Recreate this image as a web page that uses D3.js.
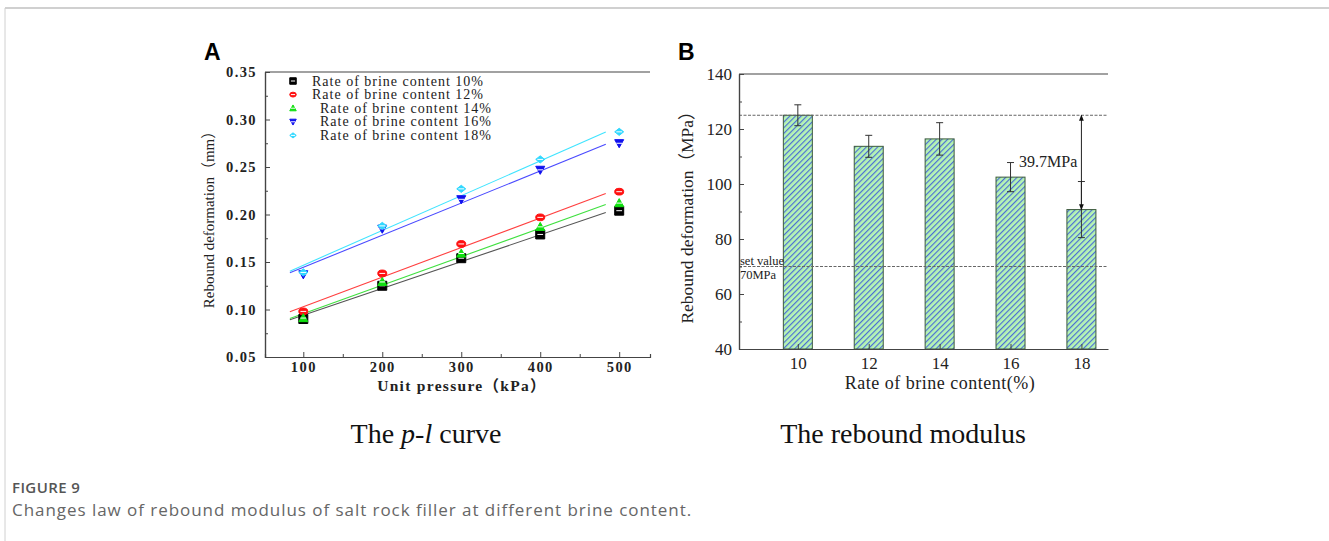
<!DOCTYPE html>
<html>
<head>
<meta charset="utf-8">
<script src="https://cdn.jsdelivr.net/npm/d3@7"></script>
<style>
  body { margin: 0; background: #fff; }
  svg { display: block; }
</style>
</head>
<body>
<div id="figure"></div>
<script>
// Panel A: rebound deformation vs unit pressure
const pressures = [100, 200, 300, 400, 500];
const brineRates = ['10%', '12%', '14%', '16%', '18%'];
const deform10 = [0.090, 0.125, 0.154, 0.179, 0.204];
const deform12 = [0.098, 0.138, 0.169, 0.197, 0.224];
const deform14 = [0.091, 0.129, 0.159, 0.187, 0.212];
const deform16 = [0.137, 0.185, 0.216, 0.247, 0.275];
const deform18 = [0.139, 0.188, 0.227, 0.258, 0.287];
const pressureTicks = [100, 200, 300, 400, 500];
const deformTicks = [0.05, 0.10, 0.15, 0.20, 0.25, 0.30, 0.35];

// Panel B: rebound modulus per brine content
const brineContent = [10, 12, 14, 16, 18];
const modulus = [125.0, 113.7, 116.4, 102.5, 90.7];
const modulusErr = [3.8, 4.0, 5.9, 5.3, 10.2];
const modulusTicks = [40, 60, 80, 100, 120, 140];
const refLines = [125, 70];

const W = 1329, H = 541;
const serif = '"Liberation Serif", "Times New Roman", serif';
const cjkSerif = '"Liberation Serif", "Noto Sans CJK SC", serif';
const sans = '"Open Sans", "Noto Sans", sans-serif';

const svg = d3.select('#figure').append('svg')
  .attr('width', W).attr('height', H);

// page frame
svg.append('line').attr('x1', 5).attr('x2', W).attr('y1', 8).attr('y2', 8)
  .attr('stroke', '#d0d0d0').attr('stroke-width', 2);
svg.append('line').attr('x1', 5).attr('x2', 5).attr('y1', 8).attr('y2', H)
  .attr('stroke', '#d0d0d0').attr('stroke-width', 1);

const axisColor = '#444';

function styleAxis(g) {
  g.select('.domain').attr('stroke', axisColor).attr('stroke-width', 1.2);
  g.selectAll('.tick line').attr('stroke', axisColor);
}

// ---------------- Panel A ----------------
const xA = d3.scaleLinear().domain([51.5, 539]).range([265, 650]);
const yA = d3.scaleLinear().domain([0.05, 0.35]).range([357, 72]);

const gA = svg.append('g');

gA.append('line').attr('x1', xA.range()[0]).attr('x2', xA.range()[1])
  .attr('y1', yA(0.35)).attr('y2', yA(0.35))
  .attr('stroke', axisColor).attr('stroke-width', 1.2);

// minor ticks
const minorX = pressureTicks.slice(0, -1).map(d => d + 50);
gA.append('g').attr('transform', `translate(0,${yA.range()[0]})`)
  .call(d3.axisBottom(xA).tickValues(minorX).tickSize(-3).tickFormat(''))
  .call(styleAxis);
const minorY = deformTicks.slice(0, -1).map(d => d + 0.025);
gA.append('g').attr('transform', `translate(${xA.range()[0]},0)`)
  .call(d3.axisLeft(yA).tickValues(minorY).tickSize(-3).tickFormat(''))
  .call(styleAxis);

const axA_x = gA.append('g').attr('transform', `translate(0,${yA.range()[0]})`)
  .call(d3.axisBottom(xA).tickValues(pressureTicks).tickSize(-5).tickPadding(5).tickSizeOuter(0))
  .call(styleAxis);
axA_x.selectAll('text').attr('font-family', serif).attr('font-size', 14.5)
  .attr('font-weight', 'bold').attr('letter-spacing', 1.4).attr('fill', '#222');

const axA_y = gA.append('g').attr('transform', `translate(${xA.range()[0]},0)`)
  .call(d3.axisLeft(yA).tickValues(deformTicks).tickFormat(d3.format('.2f')).tickSize(-5).tickPadding(8).tickSizeOuter(0))
  .call(styleAxis);
axA_y.selectAll('text').attr('font-family', serif).attr('font-size', 14.5)
  .attr('font-weight', 'bold').attr('letter-spacing', 1.4).attr('fill', '#222');

gA.append('text').attr('x', 204).attr('y', 60)
  .attr('font-family', 'Arial, "Liberation Sans", sans-serif').attr('font-weight', 'bold')
  .attr('font-size', 23).text('A');

gA.append('text').attr('transform', 'translate(214,216) rotate(-90)')
  .attr('text-anchor', 'middle').attr('font-family', cjkSerif).attr('font-size', 15)
  .attr('fill', '#222').text('Rebound deformation（mm）');

gA.append('text').attr('x', 462).attr('y', 391)
  .attr('text-anchor', 'middle').attr('font-family', cjkSerif).attr('font-size', 15.5)
  .attr('font-weight', 'bold').attr('letter-spacing', 1.3).attr('fill', '#222')
  .text('Unit pressure（kPa）');

const seriesA = [
  {name: brineRates[0], values: deform10, color: '#000000', line: '#555555', shape: 'square', indent: 0},
  {name: brineRates[1], values: deform12, color: '#ff1010', line: '#ff4040', shape: 'circle', indent: 0},
  {name: brineRates[2], values: deform14, color: '#10e010', line: '#40e040', shape: 'triUp', indent: 8},
  {name: brineRates[3], values: deform16, color: '#1010ee', line: '#4a4aff', shape: 'triDown', indent: 8},
  {name: brineRates[4], values: deform18, color: '#30d8ff', line: '#40e4ff', shape: 'diamond', indent: 8}
];

function markerPath(shape, s) {
  const h = s / 2;
  switch (shape) {
    case 'square': return `M${-h},${-h}H${h}V${h}H${-h}Z`;
    case 'circle': return `M${-h},0A${h},${h * 0.75} 0 1,0 ${h},0A${h},${h * 0.75} 0 1,0 ${-h},0Z`;
    case 'triUp': return `M0,${-h}L${h},${h * 0.8}L${-h},${h * 0.8}Z`;
    case 'triDown': return `M0,${h}L${h},${-h * 0.8}L${-h},${-h * 0.8}Z`;
    default: return `M0,${-h * 0.8}L${h},0L0,${h * 0.8}L${-h},0Z`;
  }
}

function drawMarker(g, shape, color, x, y, s) {
  const m = g.append('g').attr('transform', `translate(${x},${y})`);
  m.append('path').attr('d', markerPath(shape, s))
    .attr('fill', color).attr('stroke', color).attr('stroke-width', 1);
  m.append('line').attr('x1', -s * 0.32).attr('x2', s * 0.32).attr('y1', 0).attr('y2', 0)
    .attr('stroke', '#fff').attr('stroke-width', 1);
}

// least squares fit lines drawn over a fixed pressure span
const fitSpan = [83, 483];
seriesA.forEach(s => {
  const mx = d3.mean(pressures), my = d3.mean(s.values);
  const slope = d3.sum(pressures, (p, i) => (p - mx) * (s.values[i] - my)) /
                d3.sum(pressures, p => (p - mx) * (p - mx));
  const fit = fitSpan.map(p => [p, my + slope * (p - mx)]);
  gA.append('path').datum(fit)
    .attr('d', d3.line().x(d => xA(d[0])).y(d => yA(d[1])))
    .attr('fill', 'none').attr('stroke', s.line).attr('stroke-width', 1.1);
});
seriesA.forEach(s => {
  s.values.forEach((v, i) => drawMarker(gA, s.shape, s.color, xA(pressures[i]), yA(v), 9));
});

// legend
seriesA.forEach((s, i) => {
  const y = 81 + i * 13.6;
  drawMarker(gA, s.shape, s.color, 293, y, 6.5);
  gA.append('text').attr('x', 312 + s.indent).attr('y', y + 4.5)
    .attr('font-family', serif).attr('font-size', 14).attr('letter-spacing', 1.0)
    .attr('fill', '#222').text('Rate of brine content ' + s.name);
});

// ---------------- Panel B ----------------
const xB = d3.scaleLinear().domain([8.34, 18.75]).range([739, 1108]);
const yB = d3.scaleLinear().domain([40, 140]).range([349, 74]);
const gB = svg.append('g');

const defs = svg.append('defs');
const pat = defs.append('pattern').attr('id', 'hatch')
  .attr('patternUnits', 'userSpaceOnUse').attr('width', 4).attr('height', 4)
  .attr('patternTransform', 'rotate(45)');
pat.append('rect').attr('width', 4).attr('height', 4).attr('fill', '#b6f4b4');
pat.append('line').attr('x1', 0.6).attr('x2', 0.6).attr('y1', 0).attr('y2', 4)
  .attr('stroke', '#4466d8').attr('stroke-width', 1.1);

gB.append('line').attr('x1', xB.range()[0]).attr('x2', xB.range()[1])
  .attr('y1', yB(140)).attr('y2', yB(140))
  .attr('stroke', axisColor).attr('stroke-width', 1.2);

const barW = 29;
gB.selectAll('rect.bar').data(brineContent).enter().append('rect')
  .attr('class', 'bar')
  .attr('x', d => xB(d) - barW / 2)
  .attr('y', (d, i) => yB(modulus[i]))
  .attr('width', barW)
  .attr('height', (d, i) => yB(40) - yB(modulus[i]))
  .attr('fill', 'url(#hatch)').attr('stroke', '#3d5a3d').attr('stroke-width', 1);

// reference lines
refLines.forEach(v => {
  gB.append('line').attr('x1', xB.range()[0]).attr('x2', xB.range()[1])
    .attr('y1', yB(v)).attr('y2', yB(v))
    .attr('stroke', '#666').attr('stroke-width', 1).attr('stroke-dasharray', '3,1.5');
});

// error bars
brineContent.forEach((c, i) => {
  const x = xB(c), top = yB(modulus[i] + modulusErr[i]), bot = yB(modulus[i] - modulusErr[i]);
  gB.append('line').attr('x1', x).attr('x2', x).attr('y1', top).attr('y2', bot)
    .attr('stroke', '#333').attr('stroke-width', 1);
  [top, bot].forEach(y => gB.append('line').attr('x1', x - 3.5).attr('x2', x + 3.5)
    .attr('y1', y).attr('y2', y).attr('stroke', '#333').attr('stroke-width', 1));
});

// minor ticks
const minorYB = modulusTicks.slice(0, -1).map(d => d + 10);
gB.append('g').attr('transform', `translate(${xB.range()[0]},0)`)
  .call(d3.axisLeft(yB).tickValues(minorYB).tickSize(-3).tickFormat(''))
  .call(styleAxis);

const axB_x = gB.append('g').attr('transform', `translate(0,${yB.range()[0]})`)
  .call(d3.axisBottom(xB).tickValues(brineContent).tickSize(-5).tickPadding(8).tickSizeOuter(0))
  .call(styleAxis);
axB_x.selectAll('text').attr('font-family', serif).attr('font-size', 17).attr('fill', '#222');

const axB_y = gB.append('g').attr('transform', `translate(${xB.range()[0]},0)`)
  .call(d3.axisLeft(yB).tickValues(modulusTicks).tickSize(-5).tickPadding(7).tickSizeOuter(0))
  .call(styleAxis);
axB_y.selectAll('text').attr('font-family', serif).attr('font-size', 17).attr('fill', '#222');

// difference arrow
defs.append('marker').attr('id', 'arrow').attr('viewBox', '0 0 10 10')
  .attr('refX', 9).attr('refY', 5).attr('markerWidth', 6).attr('markerHeight', 6)
  .attr('orient', 'auto-start-reverse')
  .append('path').attr('d', 'M0,1L10,5L0,9Z').attr('fill', '#111');
gB.append('line').attr('x1', xB(18)).attr('x2', xB(18))
  .attr('y1', yB(refLines[0])).attr('y2', yB(modulus[4]))
  .attr('stroke', '#222').attr('stroke-width', 1)
  .attr('marker-start', 'url(#arrow)').attr('marker-end', 'url(#arrow)');

gB.append('text').attr('x', 1019).attr('y', 167)
  .attr('font-family', serif).attr('font-size', 16).attr('fill', '#222').text('39.7MPa');
gB.append('text').attr('x', 740).attr('y', 265)
  .attr('font-family', serif).attr('font-size', 12.5).attr('fill', '#222').text('set value');
gB.append('text').attr('x', 740).attr('y', 279)
  .attr('font-family', serif).attr('font-size', 12.5).attr('fill', '#222').text('70MPa');

gB.append('text').attr('x', 678).attr('y', 60)
  .attr('font-family', 'Arial, "Liberation Sans", sans-serif').attr('font-weight', 'bold')
  .attr('font-size', 23).text('B');

gB.append('text').attr('transform', 'translate(693,213) rotate(-90)')
  .attr('text-anchor', 'middle').attr('font-family', cjkSerif).attr('font-size', 17.5)
  .attr('fill', '#222').text('Rebound deformation（MPa）');

gB.append('text').attr('x', 940).attr('y', 389)
  .attr('text-anchor', 'middle').attr('font-family', serif).attr('font-size', 18)
  .attr('letter-spacing', 0.5).attr('fill', '#222').text('Rate of brine content(%)');

// ---------------- subtitles and caption ----------------
const sub = svg.append('text').attr('x', 426).attr('y', 443).attr('text-anchor', 'middle')
  .attr('font-family', serif).attr('font-size', 28).attr('fill', '#111');
sub.append('tspan').text('The ');
sub.append('tspan').attr('font-style', 'italic').text('p');
sub.append('tspan').text('-');
sub.append('tspan').attr('font-style', 'italic').text('l');
sub.append('tspan').text(' curve');

svg.append('text').attr('x', 903).attr('y', 443).attr('text-anchor', 'middle')
  .attr('font-family', serif).attr('font-size', 28).attr('fill', '#111')
  .text('The rebound modulus');

svg.append('text').attr('x', 12).attr('y', 493)
  .attr('font-family', sans).attr('font-weight', 600)
  .attr('font-size', 15).attr('letter-spacing', 0.4).attr('fill', '#555').text('FIGURE 9');
svg.append('text').attr('x', 12).attr('y', 516)
  .attr('font-family', sans)
  .attr('font-size', 17).attr('letter-spacing', 0.95).attr('fill', '#666')
  .text('Changes law of rebound modulus of salt rock filler at different brine content.');
</script>
</body>
</html>
